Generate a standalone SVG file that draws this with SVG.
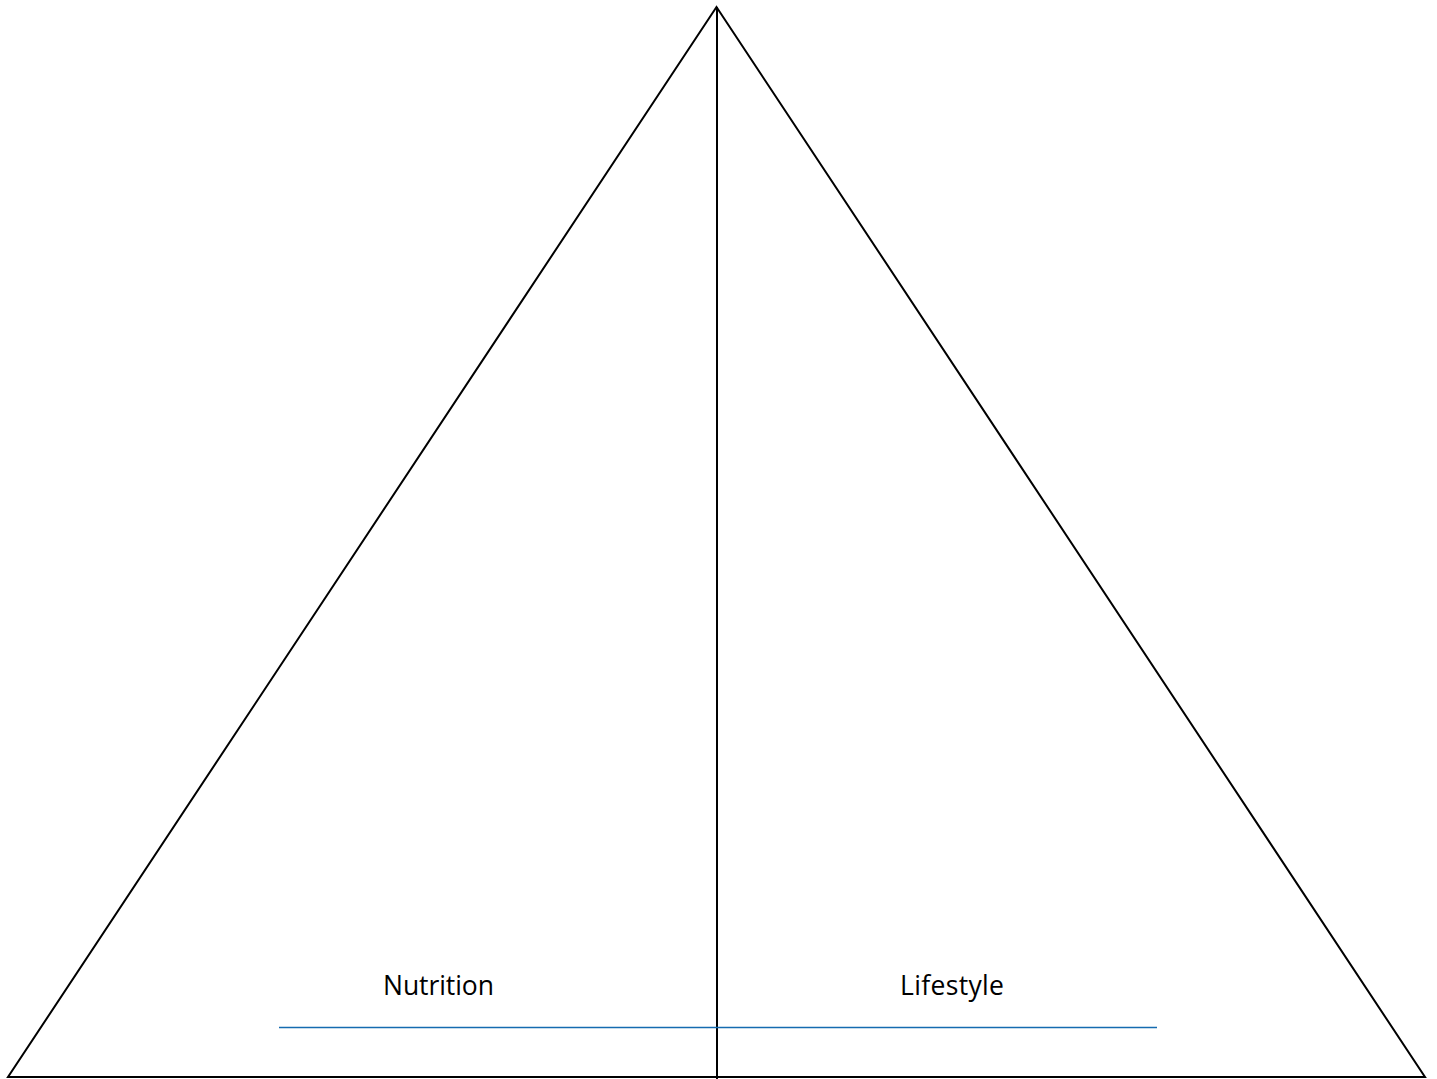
<svg xmlns="http://www.w3.org/2000/svg" width="1437" height="1079" viewBox="0 0 1437 1079">
<style>
.edge{fill:none;stroke:#000;stroke-width:2}
.lbl{font-family:"Open Sans","Liberation Sans",sans-serif;font-size:26.5px;fill:#000;text-anchor:middle}
</style>
<rect width="1437" height="1079" fill="#fff"/>
<g id="triangle">
<polygon class="edge" points="716.5,7 8,1077 1425,1077"/>
</g>
<g id="connectors">
<line class="edge" x1="717" y1="7" x2="717" y2="1079" stroke-width="2.5"/>
<line x1="279" y1="1027.5" x2="1157" y2="1027.5" stroke="#156bb0" stroke-width="1.3"/>
</g>
<g id="nutrition"><text class="lbl" x="438.5" y="995" textLength="111">Nutrition</text></g>
<g id="lifestyle"><text class="lbl" x="952" y="995" textLength="104">Lifestyle</text></g>
</svg>
